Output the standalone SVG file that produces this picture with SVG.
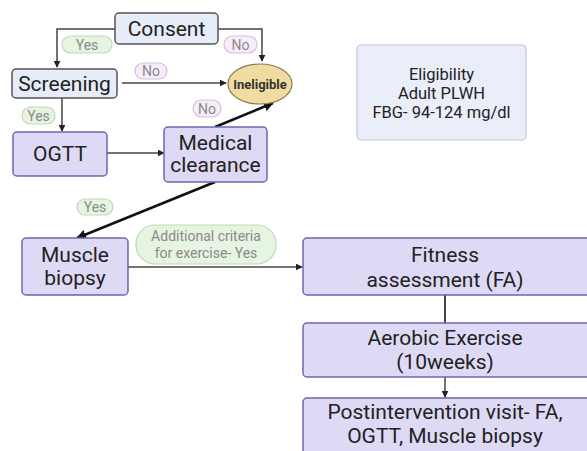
<svg xmlns="http://www.w3.org/2000/svg" width="587" height="451" viewBox="0 0 587 451">
<defs>
<marker id="ah" viewBox="0 0 10 10" refX="9" refY="5" markerWidth="7" markerHeight="7" markerUnits="userSpaceOnUse" orient="auto"><path d="M0,0 L10,5 L0,10 z" fill="#222"/></marker>
<marker id="ahb" viewBox="0 0 10 10" refX="9" refY="5" markerWidth="10" markerHeight="10" markerUnits="userSpaceOnUse" orient="auto"><path d="M0,0 L10,5 L0,10 z" fill="#111"/></marker>
</defs>
<style>
text{font-family:Roboto,"Liberation Sans",sans-serif;text-anchor:middle}
.blue{fill:#e6ecf8;stroke:#555;stroke-width:1.5}
.purp{fill:#dedaf5;stroke:#6e66b0;stroke-width:1.5}
.t{font-size:21px;fill:#222}
.yes{fill:#e6f4e2;stroke:#bcdcb4;stroke-width:1.2}
.no{fill:#f7edf9;stroke:#d7bde2;stroke-width:1.2}
.pl{font-size:14px;fill:#8a8a8a}
.c{fill:none;stroke:#444;stroke-width:1.5}
.cb{fill:none;stroke:#111;stroke-width:2.5}
.el{font-size:16.5px;fill:#222}
</style>
<rect width="587" height="451" fill="#fff"/>
<g id="connectors">
<path class="c" d="M115,29 H57 V67" marker-end="url(#ah)"/>
<path class="c" d="M218,29 H262 V61" marker-end="url(#ah)"/>
<path class="c" d="M122,83 H226" marker-end="url(#ah)"/>
<path class="c" d="M62,98 V131" marker-end="url(#ah)"/>
<path class="c" d="M107,153 H164" marker-end="url(#ah)"/>
<path class="cb" d="M215,127 L273,103" marker-end="url(#ahb)"/>
<path class="cb" d="M215,182 L77,238" marker-end="url(#ahb)"/>
<path class="c" d="M128,267 H302" marker-end="url(#ah)"/>
<path d="M445,295 V323" stroke="#444" stroke-width="2" fill="none"/>
<path class="c" d="M445,377 V397" marker-end="url(#ah)"/>
</g>
<g id="label-yes1"><rect class="yes" x="62" y="36" width="50" height="17" rx="8.5"/><text class="pl" x="87" y="49.5">Yes</text></g>
<g id="label-no1"><rect class="no" x="224" y="36" width="33" height="17" rx="8.5"/><text class="pl" x="240.5" y="49.5">No</text></g>
<g id="label-no2"><rect class="no" x="135" y="63" width="32" height="16" rx="8"/><text class="pl" x="151" y="76">No</text></g>
<g id="label-yes2"><rect class="yes" x="22" y="107" width="33" height="17" rx="8.5"/><text class="pl" x="38.5" y="120.5">Yes</text></g>
<g id="label-no3"><rect class="no" x="193" y="100" width="28" height="17" rx="8.5"/><text class="pl" x="207" y="113.5">No</text></g>
<g id="label-yes3"><rect class="yes" x="77" y="199" width="36" height="16" rx="8"/><text class="pl" x="95" y="212">Yes</text></g>
<g id="label-additional"><rect class="yes" x="136" y="225" width="140" height="39" rx="19"/><text class="pl" x="206" y="241">Additional criteria</text><text class="pl" x="206" y="258">for exercise- Yes</text></g>
<g id="consent"><rect class="blue" x="115" y="13" width="103" height="31" rx="4"/><text class="t" x="166.5" y="36">Consent</text></g>
<g id="screening"><rect class="blue" x="12" y="69" width="105" height="29" rx="4"/><text class="t" x="64.5" y="91">Screening</text></g>
<g id="ineligible"><ellipse cx="260" cy="84" rx="32" ry="20" fill="#f0dca0" stroke="#8a7a50" stroke-width="1.2"/><text x="260" y="88.5" style="font-size:13px;font-weight:bold;fill:#333">Ineligible</text></g>
<g id="ogtt"><rect class="purp" x="13" y="132" width="94" height="44" rx="4"/><text class="t" x="60" y="161">OGTT</text></g>
<g id="medical"><rect class="purp" x="164" y="127" width="103" height="55" rx="4"/><text class="t" x="215.5" y="150">Medical</text><text class="t" x="215.5" y="172">clearance</text></g>
<g id="eligibility"><rect x="357" y="45" width="169" height="95" rx="4" fill="#e9eef9" stroke="#bcc6de" stroke-width="1.2"/><text class="el" x="441.5" y="80">Eligibility</text><text class="el" x="441.5" y="99">Adult PLWH</text><text class="el" x="441.5" y="118">FBG- 94-124 mg/dl</text></g>
<g id="muscle"><rect class="purp" x="22" y="238" width="106" height="57" rx="4"/><text class="t" x="75" y="262">Muscle</text><text class="t" x="75" y="285">biopsy</text></g>
<g id="fitness"><rect class="purp" x="303" y="238" width="290" height="57" rx="4"/><text class="t" x="445" y="262">Fitness</text><text class="t" x="445" y="287">assessment (FA)</text></g>
<g id="aerobic"><rect class="purp" x="303" y="323" width="290" height="54" rx="4"/><text class="t" x="445" y="345">Aerobic Exercise</text><text class="t" x="445" y="369">(10weeks)</text></g>
<g id="post"><rect class="purp" x="303" y="398" width="290" height="60" rx="4"/><text class="t" x="445" y="419">Postintervention visit- FA,</text><text class="t" x="445" y="443">OGTT, Muscle biopsy</text></g>
</svg>
